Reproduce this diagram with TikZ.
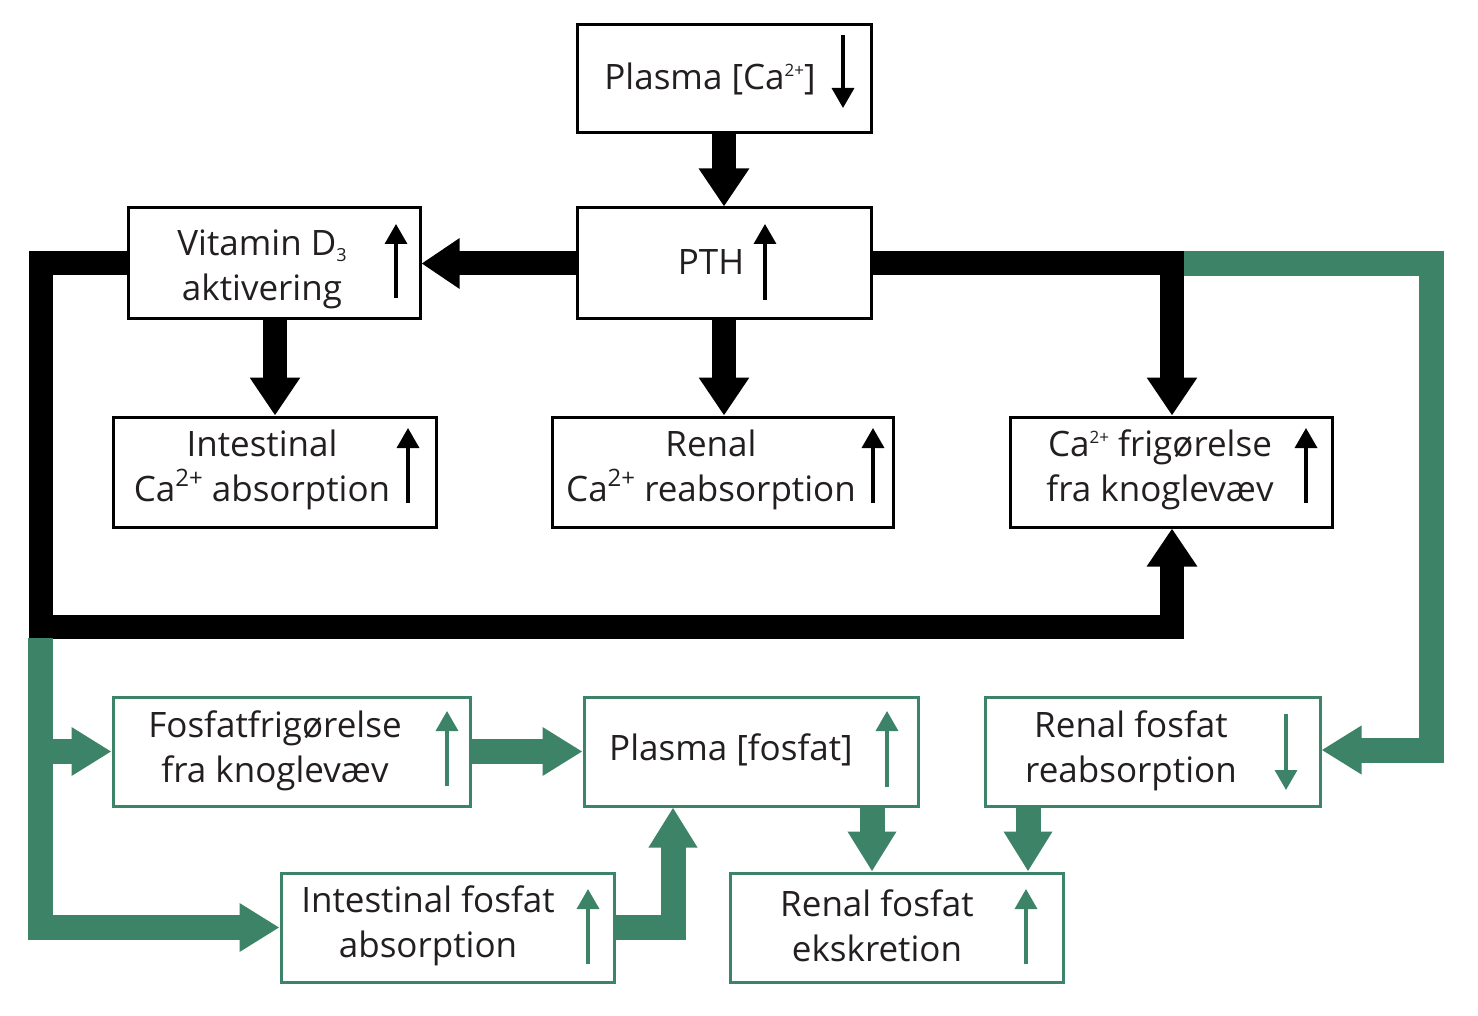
\documentclass[tikz,border=0pt]{standalone}
\usepackage{fontspec}
\setmainfont{Open Sans}
\usetikzlibrary{arrows.meta}
\definecolor{grn}{RGB}{60,131,104}
\definecolor{txt}{RGB}{35,31,32}
\newcommand{\supS}[1]{\raisebox{0.37em}{\fontsize{17}{17}\selectfont #1}}
\newcommand{\supL}[1]{\raisebox{0.42em}{\fontsize{24}{24}\selectfont #1}}
\newcommand{\subS}[1]{\raisebox{-0.18em}{\fontsize{18}{18}\selectfont #1}}
\begin{document}
\begin{tikzpicture}[x=1pt,y=-1pt,
  bbox/.style={draw=black,line width=3pt,inner sep=0pt},
  gbox/.style={draw=grn,line width=3pt,inner sep=0pt},
  lbl/.style={text=txt,align=center,inner sep=0pt,font=\fontsize{35}{45}\selectfont},
  bflow/.style={draw=black,line width=24pt,line join=miter,line cap=butt,-{Triangle[width=48pt,length=38pt]}},
  gflow/.style={draw=grn,line width=25pt,line join=miter,line cap=butt,-{Triangle[width=46pt,length=40pt]}},
  bline/.style={draw=black,line width=24pt,line join=miter,line cap=butt},
  gline/.style={draw=grn,line width=25pt,line join=miter,line cap=butt},
  bind/.style={draw=black,line width=3.5pt,-{Triangle[width=22pt,length=20pt]}},
  gind/.style={draw=grn,line width=3.5pt,-{Triangle[width=22pt,length=20pt]}}
]
\useasboundingbox[fill=white] (0,0) rectangle (1478,1016);

% boxes
\node[bbox,minimum width=294pt,minimum height=108pt] (plca) at (724,79) {};
\node[bbox,minimum width=294pt,minimum height=111pt] (pth) at (724,263.5) {};
\node[bbox,minimum width=292pt,minimum height=111pt] (vitd) at (274,263.5) {};
\node[bbox,minimum width=323pt,minimum height=110pt] (intca) at (274.5,472) {};
\node[bbox,minimum width=341pt,minimum height=110pt] (renca) at (722.5,472) {};
\node[bbox,minimum width=322pt,minimum height=110pt] (boneca) at (1171,472) {};
\node[gbox,minimum width=357pt,minimum height=109pt] (fosbone) at (291.5,751.5) {};
\node[gbox,minimum width=334pt,minimum height=109pt] (plfos) at (751,751.5) {};
\node[gbox,minimum width=335pt,minimum height=109pt] (renreab) at (1152.5,751.5) {};
\node[gbox,minimum width=333pt,minimum height=109pt] (intfos) at (447.5,927.5) {};
\node[gbox,minimum width=333pt,minimum height=109pt] (renex) at (896.5,927.5) {};

% coordinates
\coordinate (jR) at (1172,263.5);
\coordinate (gR) at (1184,263.5);
\coordinate (gRc) at (1431,263.5);
\coordinate (gRd) at (1431,750);
\coordinate (gRe) at (1380,750);
\coordinate (gRf) at (1400,750);
\coordinate (jL) at (40.5,263.5);
\coordinate (jLb) at (40.5,626.5);
\coordinate (jLc) at (1172,626.5);
\coordinate (gL) at (40.5,638);
\coordinate (gLb) at (40.5,927.5);
\coordinate (gLe) at (200,927.5);
\coordinate (gLf) at (150,927.5);
\coordinate (gLm) at (40.5,751.5);
\coordinate (iU) at (673,927.5);
\coordinate (xA) at (872,0);
\coordinate (xB) at (1028,0);
\coordinate (xC) at (275,0);

% feedback loops
\draw[bflow] (vitd.west) -- (jL) -- (jLb) -- (jLc) -- (jLc |- boneca.south);
\draw[gline] (gR) -- (gRc) -- (gRd) -- (gRe);
\draw[gflow] (gRf) -- (gRf -| renreab.east);
\draw[gline] (gL) -- (gLb) -- (gLe);
\draw[gflow] (gLf) -- (intfos.west);
\draw[gflow] (gLm) -- (fosbone.west);

% connectors between boxes
\draw[bflow] (plca.south) -- (pth.north);
\draw[bflow] (pth.west) -- (vitd.east);
\draw[bflow] (xC |- vitd.south) -- (xC |- intca.north);
\draw[bflow] (pth.south) -- (pth.south |- renca.north);
\draw[bflow] (pth.east) -- (jR) -- (jR |- boneca.north);
\draw[gflow] (fosbone.east) -- (plfos.west);
\draw[gflow] (intfos.east) -- (iU) -- (iU |- plfos.south);
\draw[gflow] (xA |- plfos.south) -- (xA |- renex.north);
\draw[gflow] (xB |- renreab.south) -- (xB |- renex.north);

% texts
\node[lbl] (t1) at (710,79) {Plasma [Ca\supS{2+}]};
\node[lbl] (t2) at (711,262) {PTH};
\node[lbl] (t3) at (262,269) {Vitamin D\subS{3}\\aktivering};
\node[lbl] (t4) at (262,470) {Intestinal\\Ca\supL{2+} absorption};
\node[lbl] (t5) at (711,470) {Renal\\Ca\supL{2+} reabsorption};
\node[lbl] (t6) at (1160,470) {Ca\supS{2+} frigørelse\\fra knoglevæv};
\node[lbl] (t7) at (275,751) {Fosfatfrigørelse\\fra knoglevæv};
\node[lbl] (t8) at (731,750) {Plasma [fosfat]};
\node[lbl] (t9) at (1131,751) {Renal fosfat\\reabsorption};
\node[lbl] (t10) at (428,926) {Intestinal fosfat\\absorption};
\node[lbl] (t11) at (877,926) {Renal fosfat\\ekskretion};

% indicator arrows
\coordinate (i1a) at (843,35);  \coordinate (i1b) at (843,108);
\coordinate (i2a) at (765,300); \coordinate (i2b) at (765,224);
\coordinate (i3a) at (396,298); \coordinate (i3b) at (396,224);
\coordinate (i4a) at (408,503); \coordinate (i4b) at (408,428);
\coordinate (i5a) at (873,503); \coordinate (i5b) at (873,428);
\coordinate (i6a) at (1306,503); \coordinate (i6b) at (1306,428);
\coordinate (i7a) at (447,786); \coordinate (i7b) at (447,711);
\coordinate (i8a) at (887,787); \coordinate (i8b) at (887,711);
\coordinate (i9a) at (1286,714); \coordinate (i9b) at (1286,790);
\coordinate (i10a) at (588,964); \coordinate (i10b) at (588,889);
\coordinate (i11a) at (1026,964); \coordinate (i11b) at (1026,889);
\draw[bind] (i1a) -- (i1b);
\draw[bind] (i2a) -- (i2b);
\draw[bind] (i3a) -- (i3b);
\draw[bind] (i4a) -- (i4b);
\draw[bind] (i5a) -- (i5b);
\draw[bind] (i6a) -- (i6b);
\draw[gind] (i7a) -- (i7b);
\draw[gind] (i8a) -- (i8b);
\draw[gind] (i9a) -- (i9b);
\draw[gind] (i10a) -- (i10b);
\draw[gind] (i11a) -- (i11b);
\end{tikzpicture}
\end{document}
